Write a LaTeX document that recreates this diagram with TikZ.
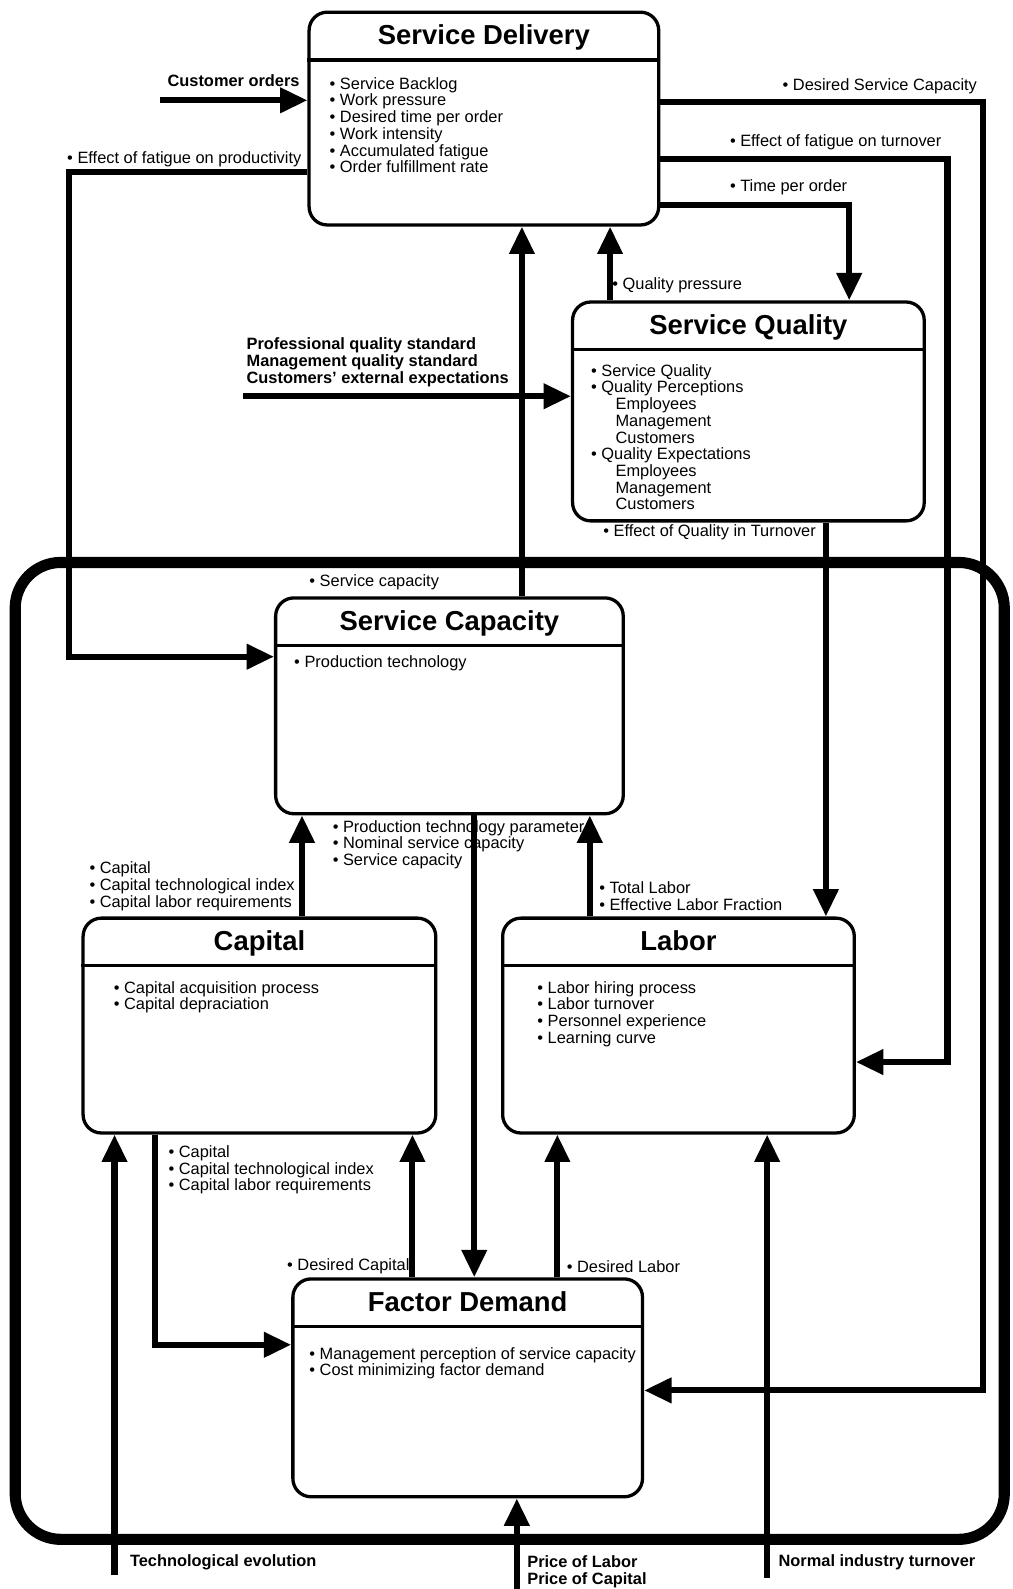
\documentclass[tikz,border=0pt]{standalone}
\usepackage{fontspec}
\setmainfont{Liberation Sans}
\usetikzlibrary{arrows.meta,positioning}
\definecolor{SdInk}{RGB}{0,0,0}
\tikzset{
  sd/box/.style={
    draw=SdInk,
    line width=0.65mm,
    rounded corners=3.6mm,
    fill=white,
    inner sep=0pt
  },
  sd/title/.style={font=\fontsize{15.4}{17}\selectfont\bfseries, text=SdInk, inner sep=0pt,
    text height=11pt, text depth=0pt, minimum height=9.6mm},
  sd/rule/.style={draw=SdInk, line width=0.65mm},
  sd/items/.style={font=\fontsize{9.2}{9.4}\selectfont, text=SdInk, align=left, inner sep=0pt, anchor=north west},
  sd/label/.style={font=\fontsize{9.2}{9.4}\selectfont, text=SdInk, inner sep=0pt, anchor=west},
  sd/input/.style={font=\fontsize{9.2}{9.4}\selectfont\bfseries, text=SdInk, align=left, inner sep=0pt},
  sd/flow/.style={-{Triangle[length=5.4mm,width=4.8mm]}, line width=1.2mm, draw=SdInk},
  sd/frame/.style={draw=SdInk, line width=2.2mm, rounded corners=9mm}
}

\begin{document}
\begin{tikzpicture}[x=0.2mm,y=-0.2mm]
  \useasboundingbox (0,0) rectangle (999,1568);

  % outer frame
  \draw[sd/frame] (15,555) rectangle (991,1519);

  % blocks
  \node[sd/box,minimum width=69mm,minimum height=42mm] (sd) at (477.5,117) {};
  \node[sd/title,below=0pt of sd.north] (sdt) {Service Delivery};
  \draw[sd/rule] (sdt.south -| sd.west) -- (sdt.south -| sd.east);
  \node[sd/items] at (325,76) {• Service Backlog\\• Work pressure\\• Desired time per order\\• Work intensity\\• Accumulated fatigue\\• Order fulfillment rate};

  \node[sd/box,minimum width=69.4mm,minimum height=43.2mm] (sq) at (738.5,406) {};
  \node[sd/title,below=0pt of sq.north] (sqt) {Service Quality};
  \draw[sd/rule] (sqt.south -| sq.west) -- (sqt.south -| sq.east);
  \node[sd/items] at (583,359) {• Service Quality\\• Quality Perceptions\\\hspace*{1.49em}Employees\\\hspace*{1.49em}Management\\\hspace*{1.49em}Customers\\• Quality Expectations\\\hspace*{1.49em}Employees\\\hspace*{1.49em}Management\\\hspace*{1.49em}Customers};

  \node[sd/box,minimum width=68.6mm,minimum height=42.6mm] (sc) at (443.5,696.5) {};
  \node[sd/title,below=0pt of sc.north] (sct) {Service Capacity};
  \draw[sd/rule] (sct.south -| sc.west) -- (sct.south -| sc.east);
  \node[sd/items] at (290,647) {• Production technology};

  \node[sd/box,minimum width=69.6mm,minimum height=42.4mm] (cap) at (256,1012) {};
  \node[sd/title,below=0pt of cap.north] (capt) {Capital};
  \draw[sd/rule] (capt.south -| cap.west) -- (capt.south -| cap.east);
  \node[sd/items] at (112,968) {• Capital acquisition process\\• Capital depraciation};

  \node[sd/box,minimum width=69.4mm,minimum height=42.4mm] (lab) at (669.5,1012) {};
  \node[sd/title,below=0pt of lab.north] (labt) {Labor};
  \draw[sd/rule] (labt.south -| lab.west) -- (labt.south -| lab.east);
  \node[sd/items] at (530,968) {• Labor hiring process\\• Labor turnover\\• Personnel experience\\• Learning curve};

  \node[sd/box,minimum width=69mm,minimum height=43mm] (fd) at (461.5,1369.5) {};
  \node[sd/title,below=0pt of fd.north] (fdt) {Factor Demand};
  \draw[sd/rule] (fdt.south -| fd.west) -- (fdt.south -| fd.east);
  \node[sd/items] at (305,1329) {• Management perception of service capacity\\• Cost minimizing factor demand};

  % labels
  \node[sd/input,anchor=east] at (296,80) {Customer orders};
  \node[sd/input,anchor=north west] at (243,333) {Professional quality standard\\Management quality standard\\Customers' external expectations};
  \node[sd/input,anchor=west] at (128,1542) {Technological evolution};
  \node[sd/input,anchor=north west] at (520,1535) {Price of Labor\\Price of Capital};
  \node[sd/input,anchor=west] at (768,1542) {Normal industry turnover};
  \node[sd/label] at (66,157) {• Effect of fatigue on productivity};
  \node[sd/label] at (772,85) {• Desired Service Capacity};
  \node[sd/label] at (720,140) {• Effect of fatigue on turnover};
  \node[sd/label] at (720,185) {• Time per order};
  \node[sd/label] at (604,281) {• Quality pressure};
  \node[sd/label] at (595,525) {• Effect of Quality in Turnover};
  \node[sd/label] at (305,575) {• Service capacity};
  \node[sd/items] at (328,809) {• Production technology parameter\\• Nominal service capacity\\• Service capacity};
  \node[sd/items] at (88,850) {• Capital\\• Capital technological index\\• Capital labor requirements};
  \node[sd/items] at (591,870) {• Total Labor\\• Effective Labor Fraction};
  \node[sd/items] at (166,1130) {• Capital\\• Capital technological index\\• Capital labor requirements};
  \node[sd/label] at (283,1250) {• Desired Capital};
  \node[sd/label] at (559,1250) {• Desired Labor};

  % free ends
  \coordinate (orderin) at (158,99);
  \coordinate (qualin) at (240,391);
  \coordinate (techin) at (113,1554);
  \coordinate (pricein) at (510,1568);
  \coordinate (turnin) at (757,1557);

  % connectors
  \draw[sd/flow] (orderin) -- (sd.west |- orderin);
  \draw[sd/flow] (qualin) -- (sq.west |- qualin);
  \draw[sd/flow] (sc.north -| 515,0) -- (sd.south -| 515,0);
  \draw[sd/flow] (sq.north -| 602,0) -- (sd.south -| 602,0);
  \draw[sd/flow] (sd.east |- 0,202) -| (sq.north -| 838,0);
  \draw[sd/flow] (sd.east |- 0,157) -- (935,157) -- (935,1048) -- (lab.east |- 0,1048);
  \draw[sd/flow] (sd.east |- 0,101) -- (970,101) -- (970,1372) -- (fd.east |- 0,1372);
  \draw[sd/flow] (sd.west |- 0,170) -- (68,170) -- (68,648) -- (sc.west |- 0,648);
  \draw[sd/flow] (sq.south -| 815,0) -- (lab.north -| 815,0);
  \draw[sd/flow] (cap.north -| 298,0) -- (sc.south -| 298,0);
  \draw[sd/flow] (lab.north -| 582,0) -- (sc.south -| 582,0);
  \draw[sd/flow] (sc.south -| 468,0) -- (fd.north -| 468,0);
  \draw[sd/flow] (cap.south -| 153,0) |- (fd.west |- 0,1327);
  \draw[sd/flow] (fd.north -| 407,0) -- (cap.south -| 407,0);
  \draw[sd/flow] (fd.north -| 550,0) -- (lab.south -| 550,0);
  \draw[sd/flow] (techin) -- (cap.south -| techin);
  \draw[sd/flow] (pricein) -- (fd.south -| pricein);
  \draw[sd/flow] (turnin) -- (lab.south -| turnin);
\end{tikzpicture}
\end{document}
